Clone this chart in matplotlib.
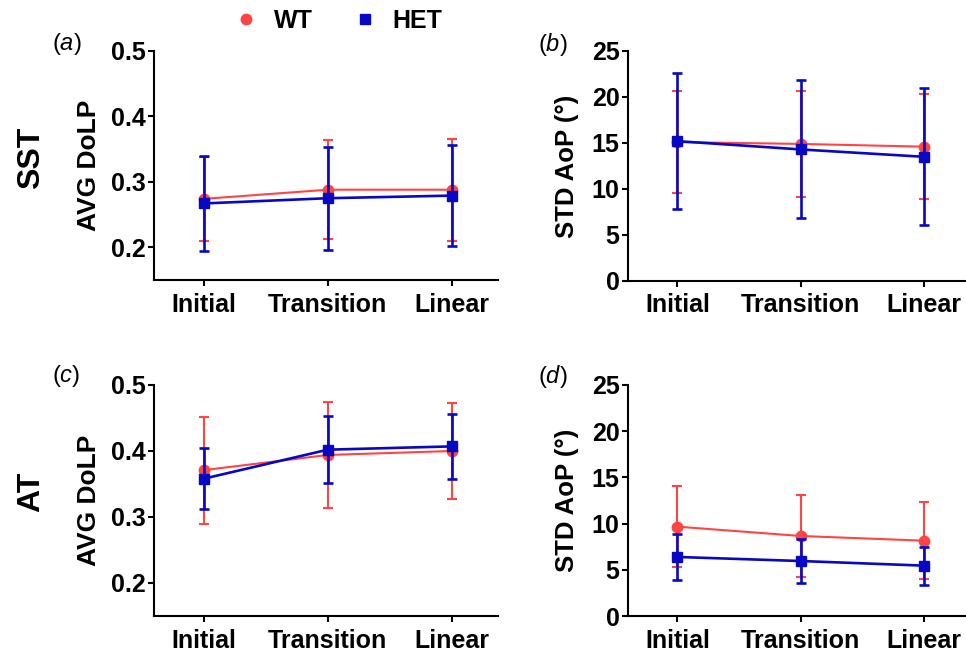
import matplotlib
matplotlib.use("Agg")
import matplotlib.pyplot as plt
import numpy as np

plt.rcParams['font.family'] = ['Liberation Sans', 'DejaVu Sans']
plt.rcParams['mathtext.fontset'] = 'custom'
plt.rcParams['mathtext.it'] = 'Liberation Sans:italic'
plt.rcParams['mathtext.rm'] = 'Liberation Sans'

categories = ["Initial", "Transition", "Linear"]

# (a) SST AVG DoLP
a_wt = [0.274, 0.288, 0.288]
a_wt_err = [0.064, 0.076, 0.078]
a_het = [0.267, 0.275, 0.279]
a_het_err = [0.073, 0.079, 0.077]

# (b) SST STD AoP
b_wt = [15.1, 14.9, 14.6]
b_wt_err = [5.55, 5.72, 5.72]
b_het = [15.2, 14.3, 13.5]
b_het_err = [7.36, 7.5, 7.45]

# (c) AT AVG DoLP
c_wt = [0.371, 0.394, 0.400]
c_wt_err = [0.081, 0.080, 0.073]
c_het = [0.358, 0.402, 0.407]
c_het_err = [0.0465, 0.0505, 0.049]

# (d) AT STD AoP
d_wt = [9.67, 8.66, 8.15]
d_wt_err = [4.38, 4.42, 4.15]
d_het = [6.39, 5.95, 5.45]
d_het_err = [2.45, 2.43, 2.05]

dolp_ticks = [0.2, 0.3, 0.4, 0.5]
aop_ticks = [0, 5, 10, 15, 20, 25]

RED = '#FF4444'
BLUE = '#0808C4'

fig = plt.figure(figsize=(9.66, 6.51), dpi=100)

W, H = 966, 651
def ax_at(l, r, t, b):
    return fig.add_axes([l / W, 1 - b / H, (r - l) / W, (b - t) / H])

axes = [
    ax_at(154, 498, 51, 280),
    ax_at(628, 966, 51, 281),
    ax_at(154, 498, 385, 616),
    ax_at(628, 966, 385, 616),
]

data = [
    (a_wt, a_wt_err, a_het, a_het_err, (0.15, 0.5), dolp_ticks, ['0.2', '0.3', '0.4', '0.5'], 'AVG DoLP'),
    (b_wt, b_wt_err, b_het, b_het_err, (0, 25), aop_ticks, [str(t) for t in aop_ticks], 'STD AoP (°)'),
    (c_wt, c_wt_err, c_het, c_het_err, (0.15, 0.5), dolp_ticks, ['0.2', '0.3', '0.4', '0.5'], 'AVG DoLP'),
    (d_wt, d_wt_err, d_het, d_het_err, (0, 25), aop_ticks, [str(t) for t in aop_ticks], 'STD AoP (°)'),
]
panel_pos = [(52, 44), (538, 44), (52, 376), (538, 376)]
letters = ['a', 'b', 'c', 'd']

x = np.arange(len(categories))
for i, (ax, (wt, wte, het, hete, ylim, yt, ytl, ylab)) in enumerate(zip(axes, data)):
    ax.errorbar(x, wt, yerr=wte, color=RED, marker='o', markersize=7.5, lw=1.5,
                elinewidth=1.5, capsize=3.5, capthick=1.5, zorder=2, clip_on=False)
    ax.errorbar(x, het, yerr=hete, color=BLUE, marker='s', markersize=7.5, lw=1.9,
                elinewidth=1.9, capsize=3.5, capthick=1.9, zorder=3, clip_on=False)
    ax.set_xlim(-0.4, 2.37 if i % 2 == 0 else 2.34)
    ax.set_ylim(*ylim)
    ax.set_yticks(yt)
    ax.set_yticklabels(ytl)
    ax.set_xticks(x)
    ax.set_xticklabels(categories)
    for s in ['top', 'right']:
        ax.spines[s].set_visible(False)
    for s in ['left', 'bottom']:
        ax.spines[s].set_linewidth(1.5)
    ax.tick_params(axis='both', width=1.5, length=4, direction='out')
    ax.tick_params(axis='x', labelsize=18, pad=5)
    ax.tick_params(axis='y', labelsize=18, pad=2)
    for lbl in ax.get_xticklabels() + ax.get_yticklabels():
        lbl.set_fontweight('bold')
    ax.set_ylabel(ylab, fontsize=19 if i % 2 == 0 else 18.5, fontweight='bold',
                  labelpad=9 if i % 2 else 7)
    px, py = panel_pos[i]
    fig.text(px / W, 1 - py / H, '($\\mathit{' + letters[i] + '}$)',
             fontsize=17, ha='left', va='center')

fig.text(31 / W, 1 - 158 / H, 'SST', rotation=90, fontsize=23, fontweight='bold',
         ha='center', va='center')
fig.text(31 / W, 1 - 492 / H, 'AT', rotation=90, fontsize=23, fontweight='bold',
         ha='center', va='center')

handles = [
    plt.Line2D([], [], color=RED, marker='o', linestyle='none', markersize=7.5),
    plt.Line2D([], [], color=BLUE, marker='s', linestyle='none', markersize=7.5),
]
fig.legend(handles, ['WT', 'HET'], loc='center', bbox_to_anchor=(338 / W, 1 - 21 / H),
           ncol=2, frameon=False, prop={'size': 18, 'weight': 'bold'},
           handletextpad=0.6, columnspacing=1.6, handlelength=1.0)

fig.savefig('out.png', dpi=100)
